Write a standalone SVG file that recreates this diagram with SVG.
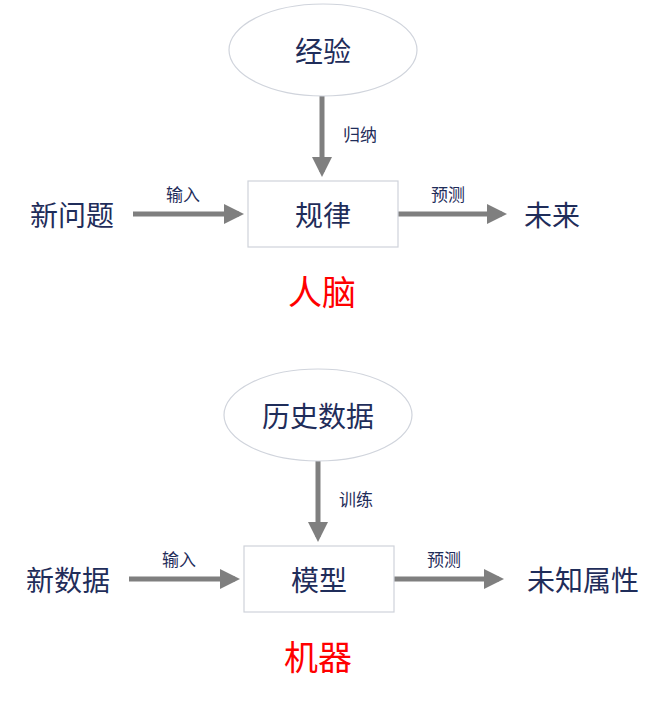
<svg xmlns="http://www.w3.org/2000/svg" width="668" height="702" viewBox="0 0 668 702">
<style>
text{font-family:"Noto Sans CJK SC",sans-serif;fill:#1f2d5a;text-anchor:middle;dominant-baseline:central}
.n{font-size:28px}.s{font-size:17px}.r{font-size:34px;fill:#ff0000}
.e{fill:#fff;stroke:#d0d4dc;stroke-width:1.2}.b{fill:#fff;stroke:#cfd3da;stroke-width:1.2}
.c{stroke:#7f7f7f;stroke-width:5;fill:none}
</style>
<defs><marker id="a" markerWidth="4" markerHeight="4" refX="3" refY="2" orient="auto"><path d="M0,0L4,2L0,4Z" fill="#7f7f7f"/></marker></defs>
<g id="connectors">
<line class="c" x1="322" y1="96" x2="322" y2="172" marker-end="url(#a)"/>
<line class="c" x1="133" y1="214" x2="239" y2="214" marker-end="url(#a)"/>
<line class="c" x1="398" y1="214" x2="502" y2="214" marker-end="url(#a)"/>
<line class="c" x1="318" y1="461" x2="318" y2="537" marker-end="url(#a)"/>
<line class="c" x1="129" y1="579" x2="235" y2="579" marker-end="url(#a)"/>
<line class="c" x1="394" y1="579" x2="499" y2="579" marker-end="url(#a)"/>
<text class="s" x="360" y="133">归纳</text>
<text class="s" x="183" y="193">输入</text>
<text class="s" x="448" y="193">预测</text>
<text class="s" x="356" y="498">训练</text>
<text class="s" x="179" y="558">输入</text>
<text class="s" x="444" y="558">预测</text>
</g>
<g id="jingyan"><ellipse class="e" cx="323" cy="50" rx="94" ry="46"/><text class="n" x="323" y="50">经验</text></g>
<g id="guilv"><rect class="b" x="248" y="181" width="150" height="66"/><text class="n" x="323" y="214">规律</text></g>
<g id="xinwenti"><text class="n" x="72" y="214">新问题</text></g>
<g id="weilai"><text class="n" x="552" y="214">未来</text></g>
<g id="rennao"><text class="r" x="322" y="290">人脑</text></g>
<g id="lishi"><ellipse class="e" cx="318" cy="415" rx="94" ry="46"/><text class="n" x="318" y="415">历史数据</text></g>
<g id="moxing"><rect class="b" x="244" y="546" width="150" height="66"/><text class="n" x="319" y="579">模型</text></g>
<g id="xinshuju"><text class="n" x="68" y="579">新数据</text></g>
<g id="weizhi"><text class="n" x="583" y="579">未知属性</text></g>
<g id="jiqi"><text class="r" x="318" y="655">机器</text></g>
</svg>
